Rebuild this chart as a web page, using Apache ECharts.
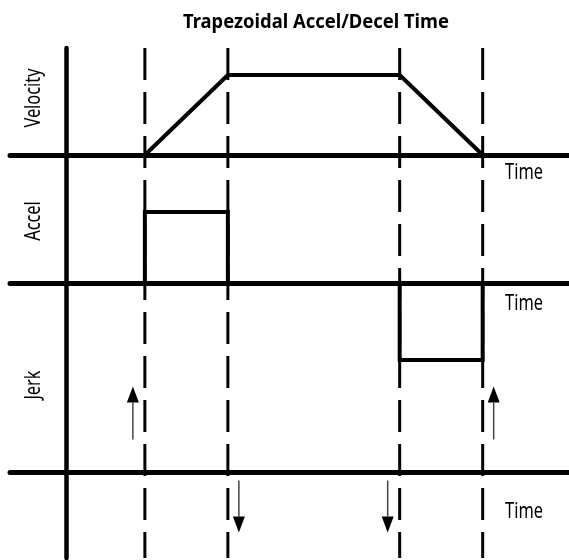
<!DOCTYPE html>
<html><head><meta charset="utf-8">
<script src="https://cdn.jsdelivr.net/npm/echarts@6/dist/echarts.min.js"></script>
<style>html,body{margin:0;padding:0;background:#fff}#c{width:569px;height:560px}</style>
</head><body><div id="c"></div>
<script>
// ---- data ----
const titleText = 'Trapezoidal Accel/Decel Time';
const panelLabels = ['Velocity', 'Accel', 'Jerk'];
const timeLabel = 'Time';
const eventTimes = [0.95, 1.95, 4.02, 5.02];           // dashed markers
const velocityTimes = [0.95, 1.95, 4.02, 5.02];
const velocityValues = [0, 1, 1, 0];
const accelTimes = [0.95, 0.95, 1.95, 1.95, 4.02, 4.02, 5.02, 5.02];
const accelValues = [0, 1, 1, 0, 0, -1.08, -1.08, 0];
const jerkTimes = [0.95, 1.95, 4.02, 5.02];
const jerkSigns = [1, -1, -1, 1];

// ---- styling ----
const FONT = "'Noto Sans', 'Open Sans', sans-serif";
const X_MIN = -0.675, X_MAX = 6.06;
const INK = '#000';

const chart = echarts.init(document.getElementById('c'), null, {renderer: 'canvas'});

function xAx(gi, showLine) {
  return {
    type: 'value', gridIndex: gi, min: X_MIN, max: X_MAX,
    axisLine: {show: showLine, onZero: true, lineStyle: {color: INK, width: 5}},
    axisTick: {show: false}, axisLabel: {show: false}, splitLine: {show: false}
  };
}
function yAx(gi, min, max, showLine) {
  return {
    type: 'value', gridIndex: gi, min: min, max: max,
    axisLine: {show: showLine, onZero: true, lineStyle: {color: INK, width: 4.5}},
    axisTick: {show: false}, axisLabel: {show: false}, splitLine: {show: false}
  };
}
function label(text, x, y, opts) {
  return Object.assign({
    type: 'text', x: x, y: y, scaleX: 0.78,
    style: {text: text, fill: INK, font: '21px ' + FONT, textAlign: 'center', textVerticalAlign: 'middle'}
  }, opts || {});
}

const dashedSeries = eventTimes.map(t => ({
  type: 'line', xAxisIndex: 0, yAxisIndex: 0, symbol: 'none', silent: true, z: 1,
  data: [[t, 1], [t, 0]],
  lineStyle: {color: INK, width: 3, type: [32, 12]}
}));

const option = {
  animation: false,
  backgroundColor: '#fff',
  grid: [
    {left: 10, right: 0, top: 48, bottom: 2},     // overlay: time axis + markers
    {left: 10, right: 0, top: 75, height: 80},    // velocity
    {left: 10, right: 0, top: 212, height: 148},  // accel
    {left: 10, right: 0, top: 385, height: 200}   // jerk
  ],
  xAxis: [xAx(0, false), xAx(1, true), xAx(2, true), xAx(3, true)],
  yAxis: [yAx(0, 0, 1, true), yAx(1, 0, 1, false), yAx(2, -1.08, 1, false), yAx(3, -1, 1, false)],
  series: [
    ...dashedSeries,
    {
      type: 'line', xAxisIndex: 1, yAxisIndex: 1, symbol: 'none', z: 3,
      data: velocityTimes.map((t, i) => [t, velocityValues[i]]),
      lineStyle: {color: INK, width: 4, join: 'miter'}
    },
    {
      type: 'line', xAxisIndex: 2, yAxisIndex: 2, symbol: 'none', z: 3,
      data: accelTimes.map((t, i) => [t, accelValues[i]]),
      lineStyle: {color: INK, width: 4, join: 'miter'}
    },
    {
      type: 'custom', xAxisIndex: 3, yAxisIndex: 3, z: 3, clip: false,
      data: jerkTimes.map((t, i) => [t, jerkSigns[i]]),
      renderItem: function (params, api) {
        const s = api.value(1);
        const p = api.coord([api.value(0), 0]);
        const x = p[0] + (params.dataIndex % 2 ? 11 : -12);
        const y0 = s > 0 ? p[1] - 33 : p[1] + 8;
        const tip = s > 0 ? p[1] - 86 : p[1] + 60;
        const base = tip + s * 16;
        return {
          type: 'group',
          children: [
            {type: 'line', shape: {x1: x, y1: y0, x2: x, y2: base},
             style: {stroke: '#444', lineWidth: 1.5}},
            {type: 'polygon', shape: {points: [[x, tip], [x - 6, base], [x + 6, base]]},
             style: {fill: INK}}
          ]
        };
      }
    }
  ],
  graphic: [
    label(titleText, 316, 22, {scaleX: 0.92, style: {text: titleText, fill: INK, font: 'bold 20px ' + FONT, textAlign: 'center', textVerticalAlign: 'middle'}}),
    label(panelLabels[0], 34, 98, {rotation: Math.PI / 2}),
    label(panelLabels[1], 34, 221, {rotation: Math.PI / 2}),
    label(panelLabels[2], 34, 385, {rotation: Math.PI / 2}),
    label(timeLabel, 524, 173),
    label(timeLabel, 524, 304),
    label(timeLabel, 524, 512)
  ]
};
chart.setOption(option);
</script>
</body></html>
